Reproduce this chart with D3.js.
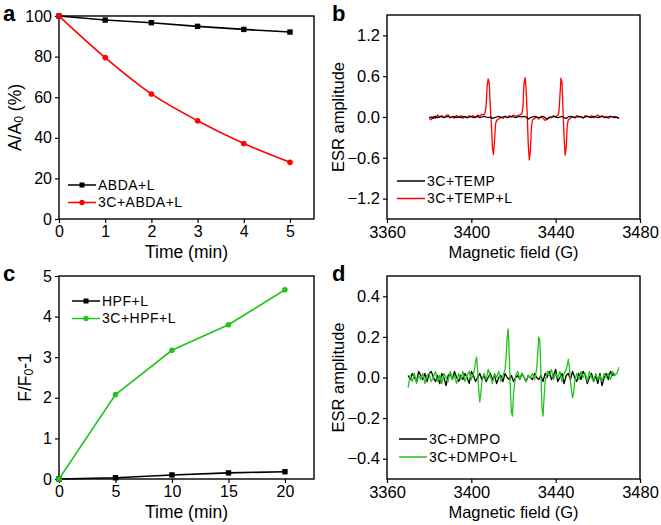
<!DOCTYPE html>
<html><head><meta charset="utf-8">
<script src="https://cdn.jsdelivr.net/npm/d3@7/dist/d3.min.js"></script>
<style>
html,body{margin:0;padding:0;background:#fff;}
svg{display:block;font-family:Arial,"Liberation Sans",sans-serif;}
</style></head>
<body>
<svg id="chart" width="661" height="525"></svg>
<script>
// ---------- Panel a data ----------
const aTime = [0, 1, 2, 3, 4, 5];
const aABDA_L = [100, 98.0, 96.7, 94.9, 93.4, 92.1];
const a3C_ABDA_L = [100, 79.5, 61.6, 48.4, 37.2, 27.9];
const aXTicks = [0, 1, 2, 3, 4, 5];
const aYTicks = [0, 20, 40, 60, 80, 100];

// ---------- Panel c data ----------
const cTime = [0, 5, 10, 15, 20];
const cHPF_L = [0, 0.03, 0.1, 0.15, 0.18];
const c3C_HPF_L = [0, 2.08, 3.17, 3.8, 4.66];
const cXTicks = [0, 5, 10, 15, 20];
const cYTicks = [0, 1, 2, 3, 4, 5];

// ---------- Panel b data (ESR, TEMP) [field G, amplitude] ----------
const b3C_TEMP = [
[3380,-0.01],[3381,0.0],[3382,-0.02],[3383,0.01],[3384,-0.01],[3385,0.0],[3386,0.01],[3387,-0.01],[3388,0.0],[3389,0.01],
[3390,-0.01],[3391,0.0],[3392,0.01],[3393,-0.01],[3394,0.0],[3395,-0.01],[3396,0.01],[3397,0.0],[3398,-0.01],[3399,0.0],
[3400,0.01],[3401,-0.01],[3402,0.0],[3403,0.01],[3404,-0.01],[3405,0.0],[3406,0.01],[3407,0.0],[3408,-0.01],[3409,0.0],
[3410,-0.02],[3411,-0.01],[3412,0.0],[3413,0.01],[3414,-0.01],[3415,0.0],[3416,0.01],[3417,-0.01],[3418,0.0],[3419,0.01],
[3420,0.0],[3421,-0.01],[3422,0.0],[3423,0.01],[3424,0.0],[3425,0.01],[3426,0.0],[3427,-0.03],[3428,-0.01],[3429,0.0],
[3430,0.01],[3431,0.0],[3432,-0.01],[3433,0.0],[3434,0.01],[3435,-0.01],[3436,-0.03],[3437,-0.01],[3438,0.0],[3439,0.01],
[3440,0.0],[3441,-0.01],[3442,0.0],[3443,0.01],[3444,-0.01],[3445,-0.02],[3446,0.0],[3447,0.01],[3448,0.0],[3449,-0.01],
[3450,0.0],[3451,0.01],[3452,0.0],[3453,-0.01],[3454,0.0],[3455,0.01],[3456,0.0],[3457,-0.01],[3458,0.01],[3459,0.0],
[3460,-0.01],[3461,0.0],[3462,0.01],[3463,0.0],[3464,-0.01],[3465,0.0],[3466,0.01],[3467,0.0],[3468,-0.01],[3469,0.0],[3470,-0.02]
];
const b3C_TEMP_L = [
[3380,-0.02],[3381,-0.04],[3382,0.01],[3383,-0.02],[3384,0.03],[3385,0.0],[3386,0.02],[3387,-0.01],[3388,0.02],[3389,0.03],
[3390,-0.01],[3391,0.01],[3392,-0.02],[3393,0.02],[3394,0.0],[3395,0.02],[3396,-0.02],[3397,0.01],[3398,-0.01],[3399,0.02],
[3400,0.0],[3401,0.02],[3402,-0.01],[3403,0.03],[3404,0.01],[3405,0.04],[3406,0.03],[3406.5,0.06],[3407,0.15],[3407.5,0.45],
[3408,0.56],[3408.5,0.5],[3409,0.15],[3409.5,-0.1],[3410,-0.45],[3410.5,-0.55],[3411,-0.35],[3411.5,-0.1],[3412,-0.05],[3413,-0.03],
[3414,0.0],[3415,-0.02],[3416,0.01],[3417,-0.01],[3418,0.02],[3419,0.0],[3420,0.03],[3421,0.01],[3422,0.02],[3423,0.03],
[3424,0.05],[3424.5,0.15],[3425,0.5],[3425.5,0.58],[3426,0.4],[3426.5,0.05],[3427,-0.4],[3427.5,-0.63],[3428,-0.5],[3428.5,-0.15],
[3429,-0.04],[3430,-0.02],[3431,0.0],[3432,-0.03],[3433,0.01],[3434,-0.02],[3435,-0.05],[3436,-0.03],[3437,0.0],[3438,-0.01],
[3439,0.02],[3440,0.0],[3441,0.03],[3441.5,0.06],[3442,0.3],[3442.5,0.57],[3443,0.5],[3443.5,0.1],[3444,-0.3],[3444.5,-0.56],
[3445,-0.45],[3445.5,-0.12],[3446,-0.04],[3447,-0.02],[3448,0.01],[3449,-0.01],[3450,0.02],[3451,0.0],[3452,0.01],[3453,-0.02],
[3454,0.02],[3455,0.01],[3456,0.0],[3457,0.02],[3458,-0.01],[3459,0.01],[3460,0.03],[3461,0.0],[3462,0.02],[3463,-0.01],
[3464,0.01],[3465,-0.02],[3466,0.01],[3467,0.0],[3468,0.01],[3469,-0.01],[3470,-0.02]
];
const bXTicks = [3360, 3400, 3440, 3480];
const bYTicks = [-1.2, -0.6, 0, 0.6, 1.2];

// ---------- Panel d data (ESR, DMPO) ----------
const d3C_DMPO = [
[3370,0.01],[3371,-0.01],[3372,0.02],[3373,0.0],[3374,-0.02],[3375,0.03],[3376,0.01],[3377,-0.01],[3378,0.02],[3379,-0.02],
[3380,0.02],[3381,0.03],[3382,0.0],[3383,-0.02],[3384,0.01],[3385,-0.03],[3386,0.02],[3387,0.0],[3388,-0.04],[3389,0.01],
[3390,0.02],[3391,-0.01],[3392,0.03],[3393,0.0],[3394,-0.02],[3395,0.01],[3396,-0.01],[3397,0.02],[3398,0.0],[3399,-0.03],
[3400,0.03],[3401,0.01],[3402,-0.02],[3403,0.0],[3404,0.02],[3405,-0.01],[3406,0.01],[3407,-0.02],[3408,0.0],[3409,0.02],
[3410,-0.01],[3411,0.01],[3412,-0.03],[3413,0.0],[3414,0.01],[3415,-0.02],[3416,0.02],[3417,0.0],[3418,-0.01],[3419,0.01],
[3420,-0.02],[3421,0.0],[3422,0.01],[3423,-0.01],[3424,0.02],[3425,0.0],[3426,-0.02],[3427,0.01],[3428,0.0],[3429,-0.01],
[3430,0.02],[3431,0.0],[3432,-0.01],[3433,0.01],[3434,-0.02],[3435,0.02],[3436,0.0],[3437,0.03],[3438,-0.01],[3439,0.01],
[3440,0.04],[3441,-0.02],[3442,0.0],[3443,0.02],[3444,-0.03],[3445,0.01],[3446,0.02],[3447,-0.01],[3448,0.03],[3449,0.0],
[3450,-0.02],[3451,0.02],[3452,-0.01],[3453,0.03],[3454,0.01],[3455,-0.03],[3456,0.0],[3457,0.02],[3458,-0.02],[3459,0.01],
[3460,-0.03],[3461,0.02],[3462,-0.04],[3463,0.0],[3464,0.02],[3465,-0.01],[3466,0.03],[3467,0.01],[3468,0.02]
];
const d3C_DMPO_L = [
[3370,-0.05],[3371,0.01],[3372,-0.02],[3373,0.02],[3374,-0.03],[3375,0.01],[3376,-0.01],[3377,0.02],[3378,-0.03],[3379,0.01],
[3380,0.02],[3381,-0.02],[3382,0.0],[3383,0.03],[3384,-0.02],[3385,0.01],[3386,-0.03],[3387,0.02],[3388,0.0],[3389,-0.02],
[3390,0.03],[3391,-0.01],[3392,0.01],[3393,-0.03],[3394,0.02],[3395,-0.01],[3396,0.03],[3397,-0.02],[3398,0.01],[3399,0.03],
[3400,-0.01],[3401,0.02],[3401.5,0.04],[3402,0.08],[3402.5,0.1],[3403,0.03],[3403.5,-0.06],[3404,-0.12],[3404.5,-0.08],[3405,-0.02],
[3406,0.02],[3407,-0.01],[3408,0.04],[3409,0.01],[3410,-0.03],[3411,0.02],[3412,0.0],[3413,0.03],[3414,-0.02],[3415,0.01],
[3416,0.04],[3416.5,0.1],[3417,0.2],[3417.5,0.24],[3418,0.1],[3418.5,-0.05],[3419,-0.17],[3419.5,-0.19],[3420,-0.08],[3421,0.01],
[3422,0.03],[3423,-0.01],[3424,0.02],[3425,0.0],[3426,-0.02],[3427,0.01],[3428,0.0],[3429,0.02],[3430,-0.01],[3431,0.04],
[3431.5,0.12],[3432,0.2],[3432.5,0.18],[3433,0.02],[3433.5,-0.15],[3434,-0.19],[3434.5,-0.1],[3435,-0.02],[3436,0.03],[3437,0.01],
[3438,0.04],[3439,-0.01],[3440,0.02],[3441,0.0],[3442,0.03],[3443,-0.02],[3444,0.02],[3445,0.04],[3445.5,0.06],[3446,0.09],
[3446.5,0.05],[3447,-0.02],[3447.5,-0.06],[3448,-0.1],[3448.5,-0.08],[3449,-0.02],[3450,0.02],[3451,-0.01],[3452,0.03],[3453,0.0],
[3454,0.02],[3455,-0.02],[3456,0.03],[3457,0.0],[3458,-0.02],[3459,0.02],[3460,-0.01],[3461,0.01],[3462,-0.02],[3463,0.02],
[3464,0.0],[3465,0.02],[3466,-0.01],[3467,0.03],[3468,0.01],[3469,0.02],[3470,0.05]
];
const dXTicks = [3360, 3400, 3440, 3480];
const dYTicks = [-0.4, -0.2, 0, 0.2, 0.4];

const RED = "#ff0000", GREEN = "#22c51b", BLACK = "#000000";

const svg = d3.select("#chart");

function panel(o) {
  const g = svg.append("g");
  const x = d3.scaleLinear().domain(o.xDomain).range([o.left, o.right]);
  const y = d3.scaleLinear().domain(o.yDomain).range([o.bottom, o.top]);
  const xAxis = d3.axisBottom(x).tickValues(o.xTicks).tickSize(4).tickSizeOuter(0).tickPadding(3).tickFormat(o.xFmt || d3.format("d"));
  const yAxis = d3.axisLeft(y).tickValues(o.yTicks).tickSize(4).tickSizeOuter(0).tickPadding(3).tickFormat(o.yFmt || d3.format("d"));
  const gx = g.append("g").attr("transform", `translate(0,${o.bottom})`).call(xAxis);
  const gy = g.append("g").attr("transform", `translate(${o.left},0)`).call(yAxis);
  [gx, gy].forEach(a => {
    a.select(".domain").remove();
    a.selectAll(".tick line").attr("stroke", BLACK).attr("stroke-width", 1.2);
    a.selectAll(".tick text").attr("fill", BLACK).style("font-size", o.tickFont + "px");
  });
  g.append("rect").attr("x", o.left).attr("y", o.top)
    .attr("width", o.right - o.left).attr("height", o.bottom - o.top)
    .attr("fill", "none").attr("stroke", BLACK).attr("stroke-width", 1.4);
  // titles
  g.append("text").attr("x", (o.left + o.right) / 2).attr("y", o.bottom + o.xTitleDy)
    .attr("text-anchor", "middle").style("font-size", o.titleFont + "px").text(o.xTitle);
  const yt = g.append("text").attr("transform", `translate(${o.yTitleX},${(o.top + o.bottom) / 2}) rotate(-90)`)
    .attr("text-anchor", "middle").attr("dy", "0.35em").style("font-size", o.titleFont + "px");
  o.yTitle.forEach(p => {
    const t = yt.append("tspan").text(p.t);
    if (p.sub) t.attr("baseline-shift", "-20%").style("font-size", (o.titleFont * 0.7) + "px");
  });
  g.append("text").attr("x", o.labelX).attr("y", o.labelY).style("font-size", "22px")
    .style("font-weight", "bold").text(o.label);
  return {g, x, y};
}

function legend(g, x0, y0, dy, items) {
  items.forEach((it, i) => {
    const yy = y0 + i * dy;
    g.append("line").attr("x1", x0).attr("x2", x0 + 28).attr("y1", yy).attr("y2", yy)
      .attr("stroke", it.color).attr("stroke-width", 1.5);
    if (it.marker === "square") {
      g.append("rect").attr("x", x0 + 14 - 2.5).attr("y", yy - 2.5).attr("width", 5).attr("height", 5).attr("fill", it.color);
    } else if (it.marker === "circle") {
      g.append("circle").attr("cx", x0 + 14).attr("cy", yy).attr("r", 2.7).attr("fill", it.color);
    }
    g.append("text").attr("x", x0 + 30).attr("y", yy).attr("dy", "0.35em")
      .style("font-size", "14px").style("letter-spacing", "0.5px").text(it.label);
  });
}

function series(p, xs, ys, color, marker, curve) {
  const pts = xs.map((v, i) => [v, ys[i]]);
  p.g.append("path").datum(pts)
    .attr("d", d3.line().x(d => p.x(d[0])).y(d => p.y(d[1])).curve(curve || d3.curveLinear))
    .attr("fill", "none").attr("stroke", color).attr("stroke-width", 1.6);
  pts.forEach(d => {
    if (marker === "square") {
      p.g.append("rect").attr("x", p.x(d[0]) - 2.7).attr("y", p.y(d[1]) - 2.7).attr("width", 5.4).attr("height", 5.4).attr("fill", color);
    } else {
      p.g.append("circle").attr("cx", p.x(d[0])).attr("cy", p.y(d[1])).attr("r", 2.8).attr("fill", color);
    }
  });
}

function spectrum(p, pts, color) {
  p.g.append("path").datum(pts)
    .attr("d", d3.line().x(d => p.x(d[0])).y(d => p.y(d[1])))
    .attr("fill", "none").attr("stroke", color).attr("stroke-width", 1.3).attr("stroke-linejoin", "round");
}

// Panel a
const pa = panel({left: 59, right: 314, top: 16, bottom: 219, xDomain: [0, 5.52], yDomain: [0, 100],
  xTicks: aXTicks, yTicks: aYTicks, tickFont: 16, titleFont: 17.5, xTitle: "Time (min)", xTitleDy: 39,
  yTitle: [{t: "A/A"}, {t: "0", sub: true}, {t: " (%)"}], yTitleX: 15, label: "a", labelX: 3, labelY: 21});
series(pa, aTime, aABDA_L, BLACK, "square");
series(pa, aTime, a3C_ABDA_L, RED, "circle", d3.curveMonotoneX);
legend(pa.g, 68, 185, 17.5, [
  {label: "ABDA+L", color: BLACK, marker: "square"},
  {label: "3C+ABDA+L", color: RED, marker: "circle"}]);

// Panel b
const pb = panel({left: 387, right: 640, top: 15, bottom: 219, xDomain: [3360, 3480], yDomain: [-1.5, 1.5],
  xTicks: bXTicks, yTicks: bYTicks, tickFont: 16.5, titleFont: 16.5, xTitle: "Magnetic field (G)", xTitleDy: 39,
  xFmt: d3.format("d"), yFmt: d3.format(".1f"),
  yTitle: [{t: "ESR amplitude"}], yTitleX: 338, label: "b", labelX: 332, labelY: 21});
spectrum(pb, b3C_TEMP_L, RED);
spectrum(pb, b3C_TEMP, BLACK);
legend(pb.g, 397, 181, 17.5, [
  {label: "3C+TEMP", color: BLACK},
  {label: "3C+TEMP+L", color: RED}]);

// Panel c
const pc = panel({left: 59, right: 314, top: 276, bottom: 479, xDomain: [0, 22.57], yDomain: [0, 5],
  xTicks: cXTicks, yTicks: cYTicks, tickFont: 16, titleFont: 17.5, xTitle: "Time (min)", xTitleDy: 39,
  yTitle: [{t: "F/F"}, {t: "0", sub: true}, {t: "-1"}], yTitleX: 25, label: "c", labelX: 3, labelY: 281});
series(pc, cTime, cHPF_L, BLACK, "square");
series(pc, cTime, c3C_HPF_L, GREEN, "circle");
legend(pc.g, 72, 301, 17.5, [
  {label: "HPF+L", color: BLACK, marker: "square"},
  {label: "3C+HPF+L", color: GREEN, marker: "circle"}]);

// Panel d
const pd = panel({left: 387, right: 640, top: 276, bottom: 479, xDomain: [3360, 3480], yDomain: [-0.5, 0.5],
  xTicks: dXTicks, yTicks: dYTicks, tickFont: 16.5, titleFont: 16.5, xTitle: "Magnetic field (G)", xTitleDy: 39,
  xFmt: d3.format("d"), yFmt: d3.format(".1f"),
  yTitle: [{t: "ESR amplitude"}], yTitleX: 338, label: "d", labelX: 332, labelY: 281});
spectrum(pd, d3C_DMPO, BLACK);
spectrum(pd, d3C_DMPO_L, GREEN);
legend(pd.g, 399, 439, 18, [
  {label: "3C+DMPO", color: BLACK},
  {label: "3C+DMPO+L", color: GREEN}]);
</script>
</body></html>
